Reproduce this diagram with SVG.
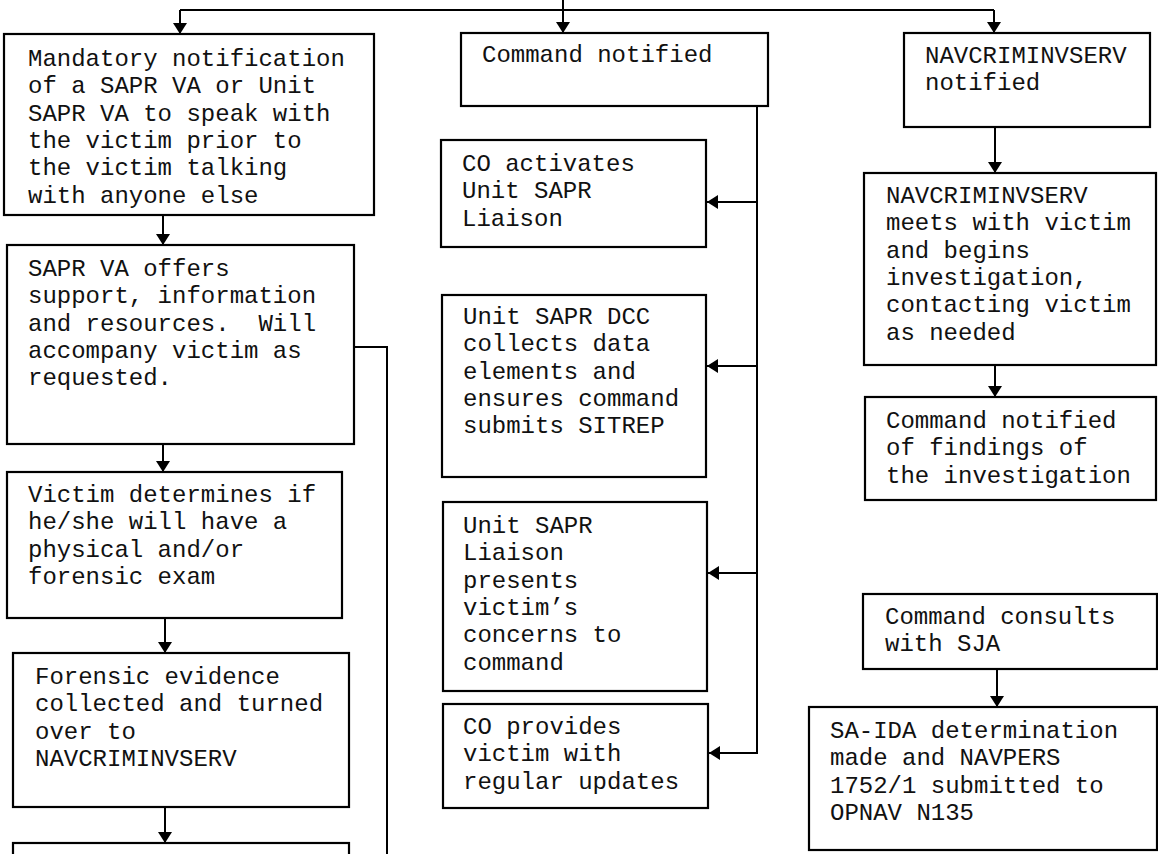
<svg xmlns="http://www.w3.org/2000/svg" width="1158" height="854" viewBox="0 0 1158 854">
<defs>
<marker id="ah" markerUnits="userSpaceOnUse" markerWidth="12" markerHeight="14" refX="11" refY="7" orient="auto">
<path d="M0,0 L11,7 L0,14 z" fill="#000"/>
</marker>
<style>
.box{fill:#fff;stroke:#000;stroke-width:2.2}
.t{font-family:"Liberation Mono","Courier New",monospace;font-size:24px;fill:#111}
.c{fill:none;stroke:#000;stroke-width:2}
.a{fill:none;stroke:#000;stroke-width:2;marker-end:url(#ah)}
</style>
</defs>
<rect width="1158" height="854" fill="#fff"/>
<g id="connectors">
<path class="c" d="M180,10 H994"/>
<path class="a" d="M563,0 V33"/>
<path class="a" d="M180,10 V34"/>
<path class="a" d="M994,10 V33"/>
<path class="a" d="M163,215 V245"/>
<path class="a" d="M163,444 V472"/>
<path class="a" d="M165,618 V653"/>
<path class="a" d="M165,807 V843"/>
<path class="c" d="M354,347 H387 V854"/>
<path class="a" d="M757,106 V753 H709"/>
<path class="a" d="M757,202 H707"/>
<path class="a" d="M757,366 H707"/>
<path class="a" d="M757,573 H708"/>
<path class="a" d="M995,127 V173"/>
<path class="a" d="M995,365 V397"/>
<path class="a" d="M997,669 V707"/>
</g>
<g id="n-mandatory">
<rect class="box" x="4" y="34" width="370" height="181"/>
<text class="t"><tspan x="28" y="66">Mandatory notification</tspan><tspan x="28" y="93.3">of a SAPR VA or Unit</tspan><tspan x="28" y="120.6">SAPR VA to speak with</tspan><tspan x="28" y="147.9">the victim prior to</tspan><tspan x="28" y="175.2">the victim talking</tspan><tspan x="28" y="202.5">with anyone else</tspan></text>
</g>
<g id="n-sapr-va">
<rect class="box" x="7" y="245" width="347" height="199"/>
<text class="t" xml:space="preserve"><tspan x="28" y="276">SAPR VA offers</tspan><tspan x="28" y="303.3">support, information</tspan><tspan x="28" y="330.6">and resources.  Will</tspan><tspan x="28" y="357.9">accompany victim as</tspan><tspan x="28" y="385.2">requested.</tspan></text>
</g>
<g id="n-victim-determines">
<rect class="box" x="7" y="472" width="335" height="146"/>
<text class="t"><tspan x="28" y="502">Victim determines if</tspan><tspan x="28" y="529.3">he/she will have a</tspan><tspan x="28" y="556.6">physical and/or</tspan><tspan x="28" y="583.9">forensic exam</tspan></text>
</g>
<g id="n-forensic">
<rect class="box" x="13" y="653" width="336" height="154"/>
<text class="t"><tspan x="35" y="684">Forensic evidence</tspan><tspan x="35" y="711.3">collected and turned</tspan><tspan x="35" y="738.6">over to</tspan><tspan x="35" y="765.9">NAVCRIMINVSERV</tspan></text>
</g>
<g id="n-bottom">
<rect class="box" x="13" y="843" width="336" height="30"/>
</g>
<g id="n-command-notified">
<rect class="box" x="461" y="33" width="307" height="73"/>
<text class="t" x="482" y="62">Command notified</text>
</g>
<g id="n-co-activates">
<rect class="box" x="441" y="140" width="265" height="107"/>
<text class="t"><tspan x="462" y="171">CO activates</tspan><tspan x="462" y="198.3">Unit SAPR</tspan><tspan x="462" y="225.6">Liaison</tspan></text>
</g>
<g id="n-dcc">
<rect class="box" x="442" y="295" width="264" height="182"/>
<text class="t"><tspan x="463" y="324">Unit SAPR DCC</tspan><tspan x="463" y="351.3">collects data</tspan><tspan x="463" y="378.6">elements and</tspan><tspan x="463" y="405.9">ensures command</tspan><tspan x="463" y="433.2">submits SITREP</tspan></text>
</g>
<g id="n-liaison">
<rect class="box" x="443" y="502" width="264" height="189"/>
<text class="t"><tspan x="463" y="533">Unit SAPR</tspan><tspan x="463" y="560.3">Liaison</tspan><tspan x="463" y="587.6">presents</tspan><tspan x="463" y="614.9">victim’s</tspan><tspan x="463" y="642.2">concerns to</tspan><tspan x="463" y="669.5">command</tspan></text>
</g>
<g id="n-co-provides">
<rect class="box" x="443" y="704" width="265" height="104"/>
<text class="t"><tspan x="463" y="734">CO provides</tspan><tspan x="463" y="761.3">victim with</tspan><tspan x="463" y="788.6">regular updates</tspan></text>
</g>
<g id="n-ncis-notified">
<rect class="box" x="904" y="33" width="246" height="94"/>
<text class="t"><tspan x="925" y="63">NAVCRIMINVSERV</tspan><tspan x="925" y="90.3">notified</tspan></text>
</g>
<g id="n-ncis-meets">
<rect class="box" x="864" y="173" width="292" height="192"/>
<text class="t"><tspan x="886" y="203">NAVCRIMINVSERV</tspan><tspan x="886" y="230.3">meets with victim</tspan><tspan x="886" y="257.6">and begins</tspan><tspan x="886" y="284.9">investigation,</tspan><tspan x="886" y="312.2">contacting victim</tspan><tspan x="886" y="339.5">as needed</tspan></text>
</g>
<g id="n-findings">
<rect class="box" x="865" y="397" width="291" height="103"/>
<text class="t"><tspan x="886" y="428">Command notified</tspan><tspan x="886" y="455.3">of findings of</tspan><tspan x="886" y="482.6">the investigation</tspan></text>
</g>
<g id="n-sja">
<rect class="box" x="863" y="594" width="294" height="75"/>
<text class="t"><tspan x="885" y="624">Command consults</tspan><tspan x="885" y="651.3">with SJA</tspan></text>
</g>
<g id="n-sa-ida">
<rect class="box" x="809" y="707" width="348" height="143"/>
<text class="t"><tspan x="830" y="738">SA-IDA determination</tspan><tspan x="830" y="765.3">made and NAVPERS</tspan><tspan x="830" y="792.6">1752/1 submitted to</tspan><tspan x="830" y="819.9">OPNAV N135</tspan></text>
</g>
</svg>
